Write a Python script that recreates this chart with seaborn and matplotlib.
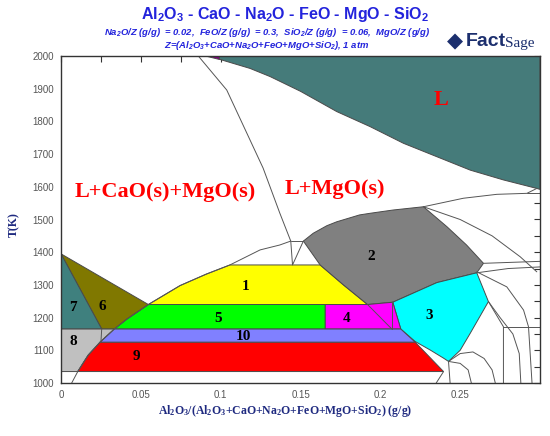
import matplotlib
matplotlib.use("Agg")
import matplotlib.pyplot as plt
import seaborn as sns
import pandas as pd

# ---- phase field outlines (x = Al2O3/Z, T in K) ----
L_x = [0.0992, 0.3, 0.3, 0.298, 0.2771, 0.2563, 0.2354, 0.2145, 0.1936, 0.1727, 0.15, 0.131, 0.1184, 0.0992]
L_T = [2000, 2000, 1592, 1595, 1621, 1651, 1692, 1733, 1784, 1830, 1892, 1937, 1962, 1990]

top_x = [0.0913, 0.0992, 0.0992]
top_T = [2000, 2000, 1990]

r1_x = [0.0547, 0.192, 0.1769, 0.1623, 0.1058, 0.091, 0.0746]
r1_T = [1240, 1240, 1300, 1361, 1361, 1333, 1298]

r2_x = [0.1518, 0.158, 0.1665, 0.1727, 0.187, 0.1936, 0.208, 0.227, 0.2417, 0.254, 0.2646,
        0.2604, 0.2354, 0.2078, 0.192, 0.1769, 0.1623]
r2_T = [1434, 1458, 1481, 1493, 1514, 1519, 1529, 1539, 1478, 1422, 1366,
        1337, 1307, 1247, 1240, 1300, 1361]

r3_x = [0.2078, 0.2354, 0.2604, 0.2677, 0.2563, 0.25, 0.2427, 0.2396, 0.2312, 0.2218, 0.2128]
r3_T = [1247, 1307, 1337, 1249, 1152, 1100, 1066, 1076, 1101, 1127, 1165]

r4_x = [0.1654, 0.2128, 0.2078, 0.192, 0.1654]
r4_T = [1165, 1165, 1247, 1240, 1240]

r5_x = [0.0334, 0.1654, 0.1654, 0.0547, 0.0411]
r5_T = [1165, 1165, 1240, 1240, 1195]

r6_x = [0, 0.0547, 0.0411, 0.0334, 0.0255]
r6_T = [1395, 1240, 1195, 1165, 1165]

r7_x = [0, 0.0255, 0]
r7_T = [1395, 1165, 1165]

r8_x = [0, 0.0334, 0.0245, 0.017, 0.0105, 0]
r8_T = [1165, 1165, 1125, 1085, 1035, 1035]

r9_x = [0.0245, 0.2218, 0.2396, 0.0105, 0.017]
r9_T = [1125, 1125, 1035, 1035, 1085]

r10_x = [0.0334, 0.2128, 0.2218, 0.0245]
r10_T = [1165, 1165, 1125, 1125]

# ---- extra boundary lines in the unshaded fields ----
lines = {
    "liq": ([0.0067, 0.0105, 0.017, 0.0245, 0.0334, 0.0411, 0.0547, 0.0746, 0.091, 0.1058, 0.1247, 0.137, 0.1439],
            [1000, 1035, 1085, 1125, 1165, 1195, 1240, 1298, 1333, 1361, 1407, 1422, 1434]),
    "cao": ([0.086, 0.1038, 0.1184, 0.1266, 0.137, 0.1439],
            [2000, 1896, 1743, 1657, 1520, 1434]),
    "j1": ([0.1439, 0.1518], [1434, 1434]),
    "j2": ([0.1439, 0.145, 0.1518], [1434, 1361, 1434]),
    "in8": ([0.0255, 0.025], [1165, 1125]),
    "in4a": ([0.192, 0.2072], [1240, 1165]),
    "in4b": ([0.2076, 0.2076], [1247, 1165]),
    "up": ([0.227, 0.252, 0.273, 0.2918, 0.298], [1539, 1565, 1577, 1580, 1595]),
    "up2": ([0.2918, 0.3], [1580, 1580]),
    "mid": ([0.227, 0.25, 0.27, 0.2876, 0.298], [1539, 1500, 1450, 1386, 1340]),
    "h1": ([0.2646, 0.3], [1366, 1372]),
    "h2": ([0.2604, 0.28, 0.3], [1337, 1350, 1355]),
    "c1": ([0.2604, 0.2792, 0.2897, 0.2928, 0.295], [1340, 1294, 1223, 1172, 1000]),
    "c2": ([0.2677, 0.2771, 0.2771], [1249, 1172, 1000]),
    "h3": ([0.2771, 0.3], [1172, 1172]),
    "c3": ([0.2427, 0.25, 0.258, 0.265, 0.27, 0.272], [1066, 1090, 1095, 1075, 1040, 1000]),
    "c4": ([0.2427, 0.25, 0.255, 0.257], [1066, 1060, 1040, 1000]),
    "c5": ([0.2677, 0.275, 0.283, 0.287, 0.288], [1249, 1200, 1150, 1090, 1000]),
    "c6": ([0.2396, 0.235], [1035, 1000]),
    "c7": ([0.2427, 0.2437], [1066, 1000]),
}

region_labels = ["1", "2", "3", "4", "5", "6", "7", "8", "9", "10"]
label_x = [0.1157, 0.1942, 0.2308, 0.179, 0.0986, 0.0261, 0.0077, 0.0077, 0.0474, 0.1142]
label_T = [1294, 1388, 1206, 1198, 1198, 1234, 1231, 1128, 1080, 1142]

field_names = ["L", "L+CaO(s)+MgO(s)", "L+MgO(s)"]
field_x = [0.238, 0.065, 0.1717]
field_T = [1865, 1585, 1593]

x_ticks = [0, 0.05, 0.1, 0.15, 0.2, 0.25]
x_ticklabels = ["0", "0.05", "0.1", "0.15", "0.2", "0.25"]
y_ticks = list(range(1000, 2001, 100))

sns.set_style("white")
plt.rcParams["font.family"] = ["Liberation Sans", "DejaVu Sans"]
plt.rcParams["mathtext.default"] = "regular"

fig = plt.figure(figsize=(5.5, 4.36), dpi=100)
ax = fig.add_axes([61 / 550, 1 - 383 / 436, (540 - 61) / 550, (383 - 56) / 436])

edge = "#4a4a4a"
fills = [
    (L_x, L_T, "#457b7a"), (top_x, top_T, "#800080"),
    (r1_x, r1_T, "#ffff00"), (r2_x, r2_T, "#808080"), (r3_x, r3_T, "#00ffff"),
    (r4_x, r4_T, "#ff00ff"), (r5_x, r5_T, "#00ff00"), (r6_x, r6_T, "#807800"),
    (r7_x, r7_T, "#3f807e"), (r8_x, r8_T, "#c0c0c0"), (r9_x, r9_T, "#ff0000"),
    (r10_x, r10_T, "#8080ff"),
]
for xs, ts, c in fills:
    ax.fill(xs, ts, facecolor=c, edgecolor=edge, linewidth=0.7, zorder=1)

rows = []
for name, (xs, ts) in lines.items():
    for i, (a, b) in enumerate(zip(xs, ts)):
        rows.append({"seg": name, "i": i, "x": a, "T": b})
df = pd.DataFrame(rows)
sns.lineplot(data=df, x="x", y="T", units="seg", estimator=None, sort=False,
             color="#555555", linewidth=0.7, ax=ax, zorder=2)

for s, x, t in zip(region_labels, label_x, label_T):
    ax.text(x, t, s, ha="center", va="center", fontsize=11, fontweight="bold",
            family="Liberation Serif", color="black", zorder=3)
for s, x, t in zip(field_names, field_x, field_T):
    ax.text(x, t, s, ha="center", va="center", fontsize=16, fontweight="bold",
            family="Liberation Serif", color="#ff0000", zorder=3)

ax.set_xlim(0, 0.3)
ax.set_ylim(1000, 2000)
ax.set_xticks(x_ticks)
ax.set_xticklabels(x_ticklabels)
ax.set_xticks([0.025, 0.075, 0.125, 0.175, 0.225, 0.275], minor=True)
ax.set_yticks(y_ticks)
ax.set_yticks(list(range(1050, 2000, 100)), minor=True)
ax.tick_params(which="both", direction="in", top=True, right=True, length=4,
               width=0.8, color="#333333", labelsize=7, labelcolor="#555555")
ax.tick_params(axis="x", pad=5)
ax.tick_params(axis="y", pad=5)
for sp in ax.spines.values():
    sp.set_color("#333333")
    sp.set_linewidth(1.0)
ax.set_xlabel("")
ax.set_ylabel("")

navy = "#1f2a80"
fig.text(285 / 550, 1 - 411 / 436,
         r"Al$_2$O$_3$/(Al$_2$O$_3$+CaO+Na$_2$O+FeO+MgO+SiO$_2$) (g/g)",
         ha="center", va="center", fontsize=8.5, fontweight="bold",
         family="Liberation Serif", color=navy)
fig.text(14 / 550, 1 - 225 / 436, "T(K)", rotation=90, ha="center", va="center",
         fontsize=8.5, fontweight="bold", family="Liberation Serif", color=navy)

blue = "#2323dc"
fig.text(285 / 550, 1 - 14 / 436, r"Al$_2$O$_3$ - CaO - Na$_2$O - FeO - MgO - SiO$_2$",
         ha="center", va="center", fontsize=11.5, fontweight="bold", color=blue)
fig.text(267 / 550, 1 - 32.5 / 436,
         r"Na$_2$O/Z (g/g)  = 0.02,  FeO/Z (g/g)  = 0.3,  SiO$_2$/Z (g/g)  = 0.06,  MgO/Z (g/g)",
         ha="center", va="center", fontsize=6.8, fontweight="bold", style="italic", color=blue)
fig.text(267 / 550, 1 - 45 / 436,
         r"Z=(Al$_2$O$_3$+CaO+Na$_2$O+FeO+MgO+SiO$_2$), 1 atm",
         ha="center", va="center", fontsize=6.8, fontweight="bold", style="italic", color=blue)

# FactSage logo as text
fig.text(466 / 550, 1 - 41 / 436, "Fact", ha="left", va="center", fontsize=14,
         fontweight="bold", color="#1c2f6e")
fig.text(505 / 550, 1 - 43 / 436, "Sage", ha="left", va="center", fontsize=11,
         family="Liberation Serif", color="#1c2f6e")
fig.text(447 / 550, 1 - 41 / 436, "\u25c6", ha="left", va="center", fontsize=15,
         color="#1c2f6e", family="DejaVu Sans")

fig.savefig("out.png", dpi=100)
